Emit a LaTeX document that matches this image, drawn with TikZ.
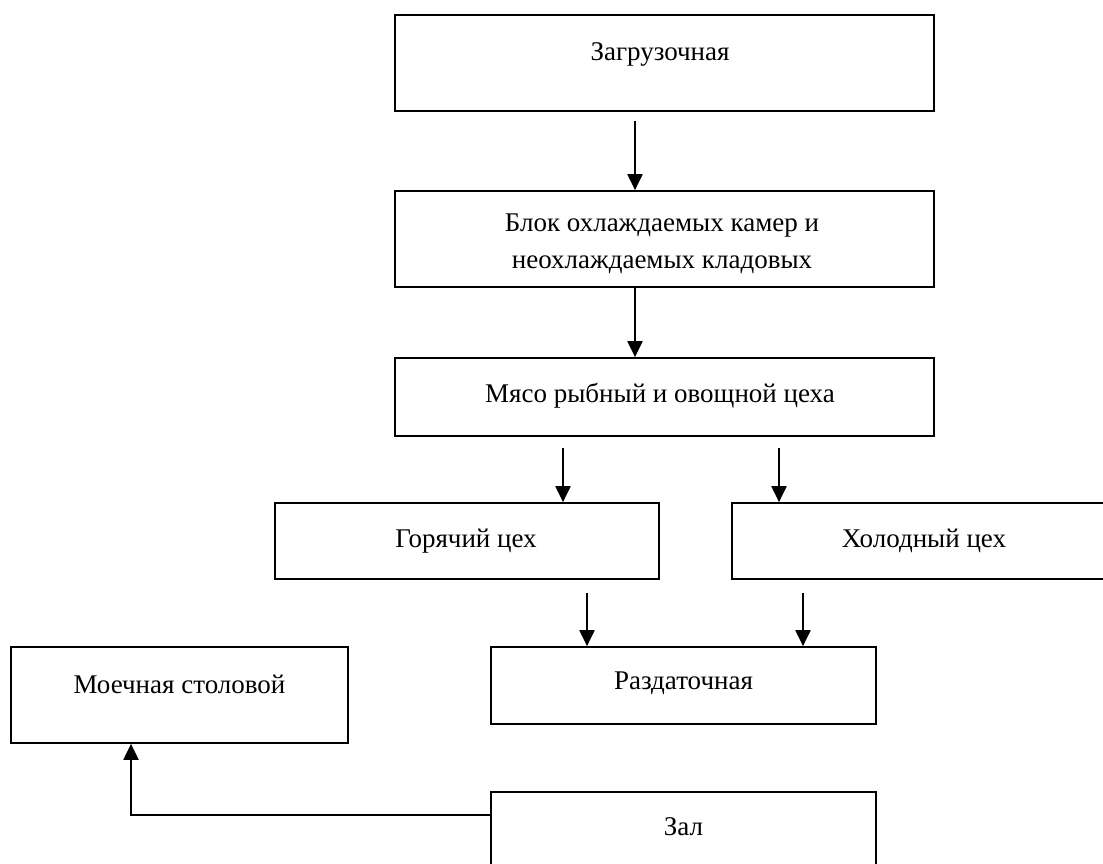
\documentclass[tikz,border=0pt]{standalone}
\usepackage{fontspec}
\setmainfont{Liberation Serif}
\usetikzlibrary{arrows.meta}
\begin{document}
\begin{tikzpicture}[x=1pt,y=-1pt,
  box/.style={draw=black,line width=1.7pt,rectangle,inner sep=0pt},
  lbl/.style={font=\fontsize{27}{37}\selectfont,inner sep=0pt,align=center},
  arr/.style={draw=black,line width=2pt,-{Triangle[length=16pt,width=15pt]}}]
\useasboundingbox (0,0) rectangle (1103,863);
\clip (0,0) rectangle (1103,863);
\fill[white] (0,0) rectangle (1103,863);
% boxes
\node[box,minimum width=539,minimum height=96] (b1) at (664.5,63) {};
\node[box,minimum width=539,minimum height=96] (b2) at (664.5,239) {};
\node[box,minimum width=539,minimum height=78] (b3) at (664.5,397) {};
\node[box,minimum width=384,minimum height=76] (hot) at (467,541) {};
\node[box,minimum width=384,minimum height=76] (cold) at (924,541) {};
\node[box,minimum width=385,minimum height=77] (razd) at (683.5,685.5) {};
\node[box,minimum width=337,minimum height=96] (moech) at (179.5,695) {};
\node[box,minimum width=385,minimum height=96] (zal) at (683.5,840) {};
% texts
\node[lbl] (t1) at (660,54) {Загрузочная};
\node[lbl] (t2) at (662,244) {Блок охлаждаемых камер и\\неохлаждаемых кладовых};
\node[lbl] (t3) at (660,396) {Мясо рыбный и овощной цеха};
\node[lbl] (t4) at (466,541) {Горячий цех};
\node[lbl] (t5) at (924,541) {Холодный цех};
\node[lbl] (t6) at (683.5,683) {Раздаточная};
\node[lbl] (t7) at (179.5,684) {Моечная столовой};
\node[lbl] (t8) at (683.5,827) {Зал};
% connector x positions
\coordinate (xa) at (635,0);
\coordinate (xb) at (563,0);
\coordinate (xc) at (779,0);
\coordinate (xd) at (587,0);
\coordinate (xe) at (803,0);
\coordinate (xf) at (131,0);
\coordinate (yz) at (0,815);
% arrows
\draw[arr] ([yshift=-9pt]b1.south -| xa) -- (b2.north -| xa);
\draw[arr] (b2.south -| xa) -- (b3.north -| xa);
\draw[arr] ([yshift=-11pt]b3.south -| xb) -- (hot.north -| xb);
\draw[arr] ([yshift=-11pt]b3.south -| xc) -- (cold.north -| xc);
\draw[arr] ([yshift=-13pt]hot.south -| xd) -- (razd.north -| xd);
\draw[arr] ([yshift=-13pt]cold.south -| xe) -- (razd.north -| xe);
\draw[arr] (zal.west |- yz) -- (xf |- yz) -- (moech.south -| xf);
\end{tikzpicture}
\end{document}
